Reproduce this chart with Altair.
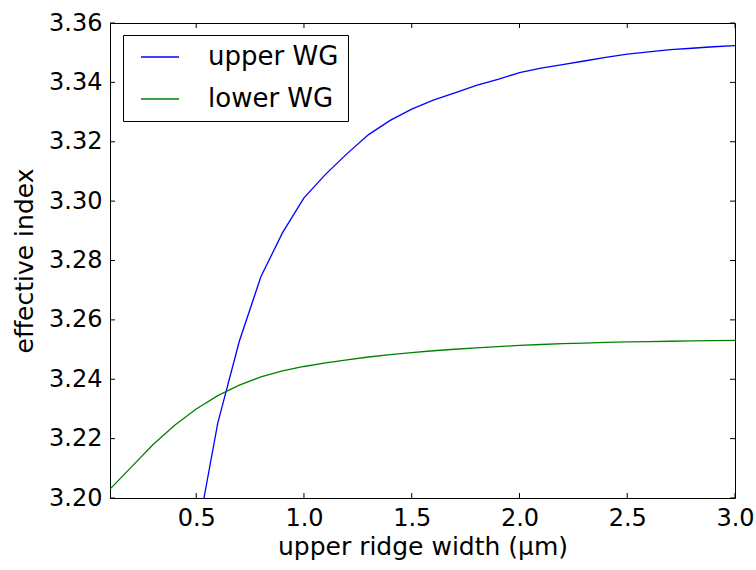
import altair as alt
import pandas as pd

# ---- data ----
upper_x = [0.536, 0.6, 0.7, 0.8, 0.9, 1.0, 1.1, 1.2, 1.3, 1.4, 1.5, 1.6, 1.7, 1.8, 1.9,
           2.0, 2.1, 2.2, 2.3, 2.4, 2.5, 2.6, 2.7, 2.8, 2.9, 3.0]
upper_y = [3.200, 3.2252, 3.2528, 3.2745, 3.2893, 3.3011, 3.3090, 3.3160, 3.3224, 3.3272,
           3.3310, 3.3340, 3.3365, 3.3390, 3.3410, 3.3433, 3.3448, 3.3460, 3.3472, 3.3484,
           3.3495, 3.3503, 3.3510, 3.3515, 3.3520, 3.3524]
lower_x = [0.1, 0.2, 0.3, 0.4, 0.5, 0.6, 0.7, 0.8, 0.9, 1.0, 1.1, 1.2, 1.3, 1.4, 1.5,
           1.6, 1.7, 1.8, 1.9, 2.0, 2.1, 2.2, 2.3, 2.4, 2.5, 2.6, 2.7, 2.8, 2.9, 3.0]
lower_y = [3.2030, 3.2105, 3.2180, 3.2245, 3.2300, 3.2345, 3.2380, 3.2408, 3.2428, 3.2443,
           3.2455, 3.2465, 3.2475, 3.2483, 3.2490, 3.2496, 3.2501, 3.2506, 3.2510, 3.2514,
           3.2517, 3.2520, 3.2522, 3.2524, 3.2526, 3.2527, 3.2528, 3.2529, 3.2530, 3.2531]
series_names = ["upper WG", "lower WG"]
series_colors = ["#0000ff", "#008000"]
x_ticks = [0.5, 1.0, 1.5, 2.0, 2.5, 3.0]
y_ticks = [3.20, 3.22, 3.24, 3.26, 3.28, 3.30, 3.32, 3.34, 3.36]
x_title = "upper ridge width (μm)"
y_title = "effective index"

df = pd.concat([
    pd.DataFrame({"x": upper_x, "y": upper_y, "series": series_names[0], "order": range(len(upper_x))}),
    pd.DataFrame({"x": lower_x, "y": lower_y, "series": series_names[1], "order": range(len(lower_x))}),
])
xt = pd.DataFrame({"x": x_ticks})
yt = pd.DataFrame({"y": y_ticks})

W, H = 625, 475
FONT = "DejaVu Sans"

X = alt.X("x:Q", scale=alt.Scale(domain=[0.1, 3.0], nice=False, zero=False),
          axis=alt.Axis(values=x_ticks, format=".1f", title=x_title, titlePadding=4))
Y = alt.Y("y:Q", scale=alt.Scale(domain=[3.20, 3.36], nice=False, zero=False),
          axis=alt.Axis(values=y_ticks, format=".2f", title=y_title, titlePadding=11))

lines = alt.Chart(df).mark_line(strokeWidth=1.3, clip=True).encode(
    x=X, y=Y,
    order="order:Q",
    color=alt.Color("series:N",
                    scale=alt.Scale(domain=series_names, range=series_colors),
                    sort=series_names,
                    legend=alt.Legend(title=None, orient="none", legendX=13, legendY=12,
                                      symbolType="M-2,0H2", symbolSize=361,
                                      symbolStrokeWidth=1.3, symbolOffset=15,
                                      labelOffset=35, labelFontSize=26, labelFont=FONT,
                                      labelColor="black", labelLimit=400,
                                      padding=9, rowPadding=16,
                                      strokeColor="black", fillColor="white")),
)

tick_color = "black"
xb = alt.Chart(xt).mark_rule(color=tick_color, strokeWidth=1).encode(
    x=X, y=alt.value(H), y2=alt.value(H - 5))
xtop = alt.Chart(xt).mark_rule(color=tick_color, strokeWidth=1).encode(
    x=X, y=alt.value(0), y2=alt.value(5))
yl = alt.Chart(yt).mark_rule(color=tick_color, strokeWidth=1).encode(
    y=Y, x=alt.value(0), x2=alt.value(5))
yr = alt.Chart(yt).mark_rule(color=tick_color, strokeWidth=1).encode(
    y=Y, x=alt.value(W), x2=alt.value(W - 5))

chart = alt.layer(lines, xb, xtop, yl, yr).properties(
    width=W, height=H,
    autosize=alt.AutoSizeParams(type="none"),
    padding={"left": 110, "top": 23, "right": 21, "bottom": 72},
    background="white",
).configure_view(
    stroke="black", strokeWidth=1
).configure_axis(
    domain=False, ticks=False, tickSize=0, grid=False,
    labelFont=FONT, labelFontSize=24, labelColor="black", labelPadding=8,
    labelFlush=False, labelOverlap=False,
    titleFont=FONT, titleFontSize=25, titleFontWeight="normal", titleColor="black",
)

chart.save("out.html", embed_options={"renderer": "svg", "actions": False})
